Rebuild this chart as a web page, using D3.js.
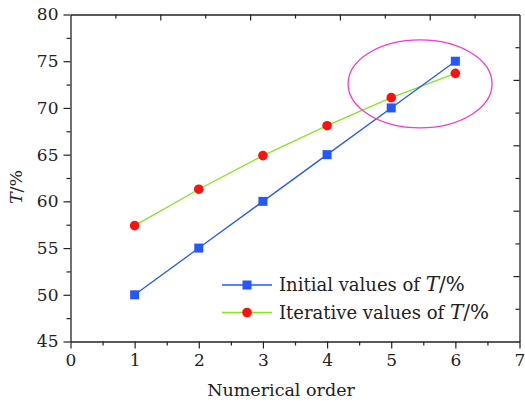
<!DOCTYPE html>
<html>
<head>
<meta charset="utf-8">
<script src="https://cdn.jsdelivr.net/npm/d3@7"></script>
<style>
  html, body { margin: 0; padding: 0; background: #fff; }
  svg { display: block; }
  text { font-family: "DejaVu Serif", serif; fill: #222; }
</style>
</head>
<body>
<svg id="chart" width="525" height="401"></svg>
<script>
// Data
const order = [1, 2, 3, 4, 5, 6];
const initialValues = [50, 55, 60, 65, 70, 75];
const iterativeValues = [57.4, 61.3, 64.9, 68.1, 71.1, 73.7];
const xTicks = [0, 1, 2, 3, 4, 5, 6, 7];
const yTicks = [45, 50, 55, 60, 65, 70, 75, 80];
const seriesNames = ["Initial values of ", "Iterative values of "];

const svg = d3.select("#chart");
const m = { left: 70.5, right: 519.5, top: 14.5, bottom: 341.5 };
const FONT = "DejaVu Serif";

const x = d3.scaleLinear().domain([0, 7]).range([m.left, m.right]);
const y = d3.scaleLinear().domain([45, 80]).range([m.bottom, m.top]);

const blue = "#2457ff";
const green = "#86e624";
const red = "#ff1010";
const ink = "#222";

function styleAxis(g) {
  g.select(".domain").attr("stroke", ink).attr("stroke-width", 1.3);
  g.selectAll(".tick line").attr("stroke", ink).attr("stroke-width", 1.2);
}

// minor ticks
const xMinor = d3.range(0.5, 7, 1);
const yMinor = d3.range(47.5, 80, 5);

svg.append("g").attr("transform", `translate(0,${m.bottom})`)
  .call(d3.axisBottom(x).tickValues(xMinor).tickSize(4).tickFormat(""))
  .call(styleAxis).call(g => g.select(".domain").remove());
svg.append("g").attr("transform", `translate(${m.left},0)`)
  .call(d3.axisLeft(y).tickValues(yMinor).tickSize(4).tickFormat(""))
  .call(styleAxis).call(g => g.select(".domain").remove());

const xAxis = svg.append("g").attr("transform", `translate(0,${m.bottom})`)
  .call(d3.axisBottom(x).tickValues(xTicks).tickSize(7).tickSizeOuter(0).tickPadding(5).tickFormat(d3.format("d")))
  .call(styleAxis);
xAxis.selectAll(".tick text").attr("font-size", 17).attr("font-family", FONT).attr("fill", ink);

const yAxis = svg.append("g").attr("transform", `translate(${m.left},0)`)
  .call(d3.axisLeft(y).tickValues(yTicks).tickSize(7).tickSizeOuter(0).tickPadding(5).tickFormat(d3.format("d")))
  .call(styleAxis);
yAxis.selectAll(".tick text").attr("font-size", 17).attr("font-family", FONT).attr("fill", ink);

// top and right frame: 5 major intervals with a minor tick between, pointing inward
const xt = d3.scaleLinear().domain([0, 5]).range([m.left, m.right]);
const yr = d3.scaleLinear().domain([0, 5]).range([m.bottom, m.top]);
svg.append("g").attr("transform", `translate(0,${m.top})`)
  .call(d3.axisBottom(xt).tickValues(d3.range(0.5, 5, 1)).tickSize(4).tickFormat(""))
  .call(styleAxis).call(g => g.select(".domain").remove());
svg.append("g").attr("transform", `translate(0,${m.top})`)
  .call(d3.axisBottom(xt).tickValues(d3.range(1, 5)).tickSize(6).tickSizeOuter(0).tickFormat(""))
  .call(styleAxis);
svg.append("g").attr("transform", `translate(${m.right},0)`)
  .call(d3.axisLeft(yr).tickValues(d3.range(0.5, 5, 1)).tickSize(4).tickFormat(""))
  .call(styleAxis).call(g => g.select(".domain").remove());
svg.append("g").attr("transform", `translate(${m.right},0)`)
  .call(d3.axisLeft(yr).tickValues(d3.range(1, 5)).tickSize(6).tickSizeOuter(0).tickFormat(""))
  .call(styleAxis);

// Axis titles
svg.append("text")
  .attr("x", 281).attr("y", 396)
  .attr("text-anchor", "middle").attr("font-size", 17.5)
  .text("Numerical order");

const yTitle = svg.append("text")
  .attr("transform", "translate(22,187) rotate(-90)")
  .attr("text-anchor", "middle").attr("font-size", 17.5);
yTitle.append("tspan").attr("font-style", "italic").text("T");
yTitle.append("tspan").text("/%");

// Lines
const line = d3.line().x((d, i) => x(order[i])).y(d => y(d));

svg.append("path").datum(iterativeValues)
  .attr("d", line).attr("fill", "none").attr("stroke", green).attr("stroke-width", 1.3);
svg.append("path").datum(initialValues)
  .attr("d", line).attr("fill", "none").attr("stroke", blue).attr("stroke-width", 1.3);

// Markers
svg.selectAll("rect.init").data(initialValues).enter().append("rect")
  .attr("class", "init")
  .attr("x", (d, i) => x(order[i]) - 4.5).attr("y", d => y(d) - 4.5)
  .attr("width", 9).attr("height", 9).attr("fill", blue);

svg.selectAll("circle.iter").data(iterativeValues).enter().append("circle")
  .attr("class", "iter")
  .attr("cx", (d, i) => x(order[i])).attr("cy", d => y(d))
  .attr("r", 4.8).attr("fill", red);

// Highlight ellipse around the crossing region
svg.append("ellipse")
  .attr("cx", x(5.45)).attr("cy", y(72.58))
  .attr("rx", 72).attr("ry", 44)
  .attr("fill", "none").attr("stroke", "#f03cd0").attr("stroke-width", 1.3);

// Legend
const legend = svg.append("g");
const rows = [
  { name: seriesNames[0], color: blue, shape: "rect", yy: 285 },
  { name: seriesNames[1], color: green, shape: "circle", yy: 312.5 }
];
rows.forEach(r => {
  legend.append("line").attr("x1", 222).attr("x2", 272).attr("y1", r.yy).attr("y2", r.yy)
    .attr("stroke", r.color).attr("stroke-width", 1.3);
  if (r.shape === "rect") {
    legend.append("rect").attr("x", 247 - 4.5).attr("y", r.yy - 4.5).attr("width", 9).attr("height", 9).attr("fill", blue);
  } else {
    legend.append("circle").attr("cx", 247).attr("cy", r.yy).attr("r", 4.8).attr("fill", red);
  }
  const t = legend.append("text").attr("x", 279).attr("y", r.yy + 6).attr("font-size", 18);
  t.append("tspan").text(r.name);
  t.append("tspan").attr("font-style", "italic").attr("font-size", 20).text("T");
  t.append("tspan").attr("font-size", 20).text("/%");
});
</script>
</body>
</html>
